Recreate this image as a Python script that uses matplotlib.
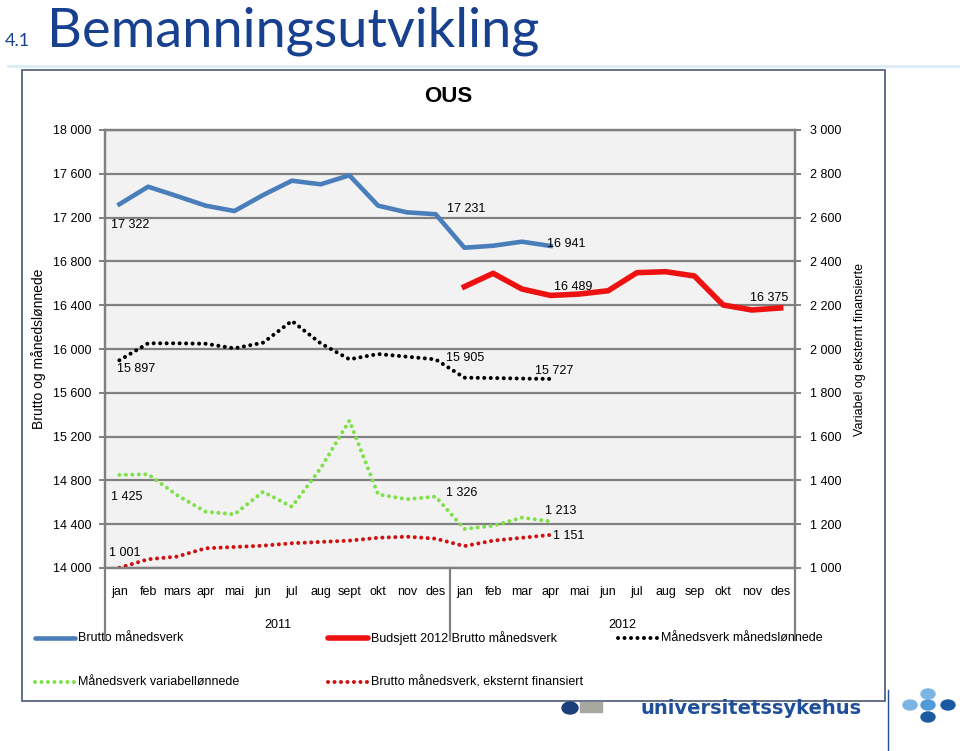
import numpy as np
import matplotlib.pyplot as plt
from matplotlib.patches import Rectangle, Ellipse

plt.rcParams['font.family'] = ['Liberation Sans', 'DejaVu Sans']

# data
months = ["jan", "feb", "mars", "apr", "mai", "jun", "jul", "aug", "sept", "okt", "nov", "des",
          "jan", "feb", "mar", "apr", "mai", "jun", "jul", "aug", "sep", "okt", "nov", "des"]
years = ["2011", "2012"]

brutto = [17322, 17482, 17397, 17309, 17260, 17406, 17537, 17504, 17586, 17309, 17248, 17231,
          16925, 16943, 16980, 16941]
budsjett = [16569, 16691, 16548, 16489, 16502, 16532, 16697, 16706, 16667, 16402, 16356, 16375]
mnd_lonnede = [15897, 16052, 16052, 16048, 16006, 16058, 16256, 16052, 15906, 15954, 15930, 15905,
               15738, 15735, 15730, 15727]
variabel = [1425, 1428, 1333, 1257, 1245, 1348, 1280, 1455, 1673, 1336, 1314, 1326,
            1178, 1193, 1230, 1213]
ekstern = [1001, 1040, 1052, 1090, 1096, 1102, 1113, 1119, 1125, 1138, 1143, 1134,
           1100, 1125, 1138, 1151]

blue = "#4a7ebb"
red = "#ee1111"
green = "#7ee04a"
dred = "#d01010"
gray = "#808080"
fs = 9

fig = plt.figure(figsize=(9.6, 7.51), dpi=100)

# background layer in pixel coordinates
bg = fig.add_axes([0, 0, 1, 1], zorder=0)
bg.set_xlim(0, 960)
bg.set_ylim(751, 0)
bg.axis("off")

bg.plot([8, 960], [66, 66], color="#dcecf6", lw=2)
bg.text(5, 46, "4.1", fontsize=13, color="#17408f", family="Lato", va="baseline")
bg.text(47, 46, "Bemanningsutvikling", fontsize=39, color="#17408f", family="Lato", va="baseline")
bg.add_patch(Rectangle((22, 70), 863, 631, facecolor="white", edgecolor="#56657f", lw=1.3))
bg.text(448, 97, "OUS", fontsize=16, fontweight="bold", ha="center", va="center")

# logo bits
bg.text(640, 708, "universitetssykehus", fontsize=14, fontweight="bold", color="#1f4f9a",
        family="DejaVu Sans", va="center")
bg.add_patch(Rectangle((580, 702), 22, 10, color="#a8a8a0"))
bg.add_patch(Ellipse((570, 708), 16, 12, color="#1a3f7a"))
bg.plot([888, 888], [690, 750], color="#1f4f9a", lw=1)
for (x, y, c) in [(928, 694, "#7bb5e3"), (910, 705, "#7bb5e3"), (928, 705, "#4f9ad8"),
                  (948, 705, "#1a5aa0"), (928, 717, "#1a5aa0")]:
    bg.add_patch(Ellipse((x, y), 14, 10, color=c))

# legend
def leg(x, y, color, lw, ls, label):
    if ls == "dot":
        bg.plot([x, x + 40], [y, y], color=color, lw=lw, linestyle=(0, (0.01, 1.6)),
                dash_capstyle="round")
    else:
        bg.plot([x, x + 40], [y, y], color=color, lw=lw, solid_capstyle="round")
    bg.text(x + 43, y, label, fontsize=fs, va="center")

leg(35, 638, blue, 3.3, "-", "Brutto månedsverk")
leg(328, 638, red, 4, "-", "Budsjett 2012 Brutto månedsverk")
leg(618, 638, "black", 2.9, "dot", "Månedsverk månedslønnede")
leg(35, 682, green, 2.9, "dot", "Månedsverk variabellønnede")
leg(328, 682, dred, 2.9, "dot", "Brutto månedsverk, eksternt finansiert")

# main chart
ax = fig.add_axes([105 / 960, 1 - 568 / 751, 690 / 960, 438 / 751], zorder=2)
ax.set_facecolor("#f2f2f2")
ax2 = ax.twinx()

x = np.arange(len(months))
ax.set_xlim(-0.5, len(months) - 0.5)
ax.set_ylim(14000, 18000)
ax2.set_ylim(1000, 3000)
ax.set_yticks(np.arange(14000, 18001, 400))
ax2.set_yticks(np.arange(1000, 3001, 200))
ax.set_yticklabels([f"{v:,}".replace(",", " ") for v in range(14000, 18001, 400)])
ax2.set_yticklabels([f"{v:,}".replace(",", " ") for v in range(1000, 3001, 200)])
ax.set_xticks(x)
ax.set_xticklabels(months)

ax.set_axisbelow(True)
ax.yaxis.grid(True, color=gray, lw=1.6)
for a in (ax, ax2):
    for s in a.spines.values():
        s.set_color(gray)
        s.set_linewidth(1.6)
ax.tick_params(axis="y", direction="out", length=4, width=1.4, color=gray, labelsize=fs, pad=6)
ax2.tick_params(axis="y", direction="out", length=4, width=1.4, color=gray, labelsize=fs, pad=7)
ax.tick_params(axis="x", length=0, labelsize=fs, pad=13)

# category divider lines below axis
for xv in (-0.5, 11.5, 23.5):
    ax.plot([xv, xv], [0, -0.164], transform=ax.get_xaxis_transform(), color=gray, lw=1.6,
            clip_on=False)
for i, yr in enumerate(years):
    ax.text(5.5 + 12 * i, -0.13, yr, transform=ax.get_xaxis_transform(), ha="center",
            va="center", fontsize=fs)

ax.set_ylabel("Brutto og månedslønnede", fontsize=10, labelpad=5)
ax2.set_ylabel("Variabel og eksternt finansierte", fontsize=fs, labelpad=9)

dots = dict(linestyle=(0, (0.01, 1.6)), dash_capstyle="round", lw=2.9)
ax.plot(x[:len(brutto)], brutto, color=blue, lw=3.3)
ax.plot(x[12:12 + len(budsjett)], budsjett, color=red, lw=4)
ax.plot(x[:len(mnd_lonnede)], mnd_lonnede, color="black", **dots)
ax2.plot(x[:len(variabel)], variabel, color=green, **dots)
ax2.plot(x[:len(ekstern)], ekstern, color=dred, **dots)

def fmt(v):
    return f"{v:,}".replace(",", " ")

def lab(a, i, v, dx, dy):
    a.annotate(fmt(v), (i, v), xytext=(dx, dy), textcoords="offset pixels",
               ha="center", va="center", fontsize=fs)

lab(ax, 0, brutto[0], 11, -21)
lab(ax, 11, brutto[11], 31, 5)
lab(ax, 15, brutto[15], 16, 2)
lab(ax, 15, budsjett[3], 23, 8)
lab(ax, 23, budsjett[11], -11, 10)
lab(ax, 0, mnd_lonnede[0], 17, -9)
lab(ax, 11, mnd_lonnede[11], 30, 1)
lab(ax, 15, mnd_lonnede[15], 4, 8)
lab(ax2, 0, variabel[0], 7, -22)
lab(ax2, 11, variabel[11], 26, 4)
lab(ax2, 15, variabel[15], 10, 10)
lab(ax2, 15, ekstern[15], 18, -1)
lab(ax2, 0, ekstern[0], 5, 15)

fig.savefig("out.png", dpi=100)
